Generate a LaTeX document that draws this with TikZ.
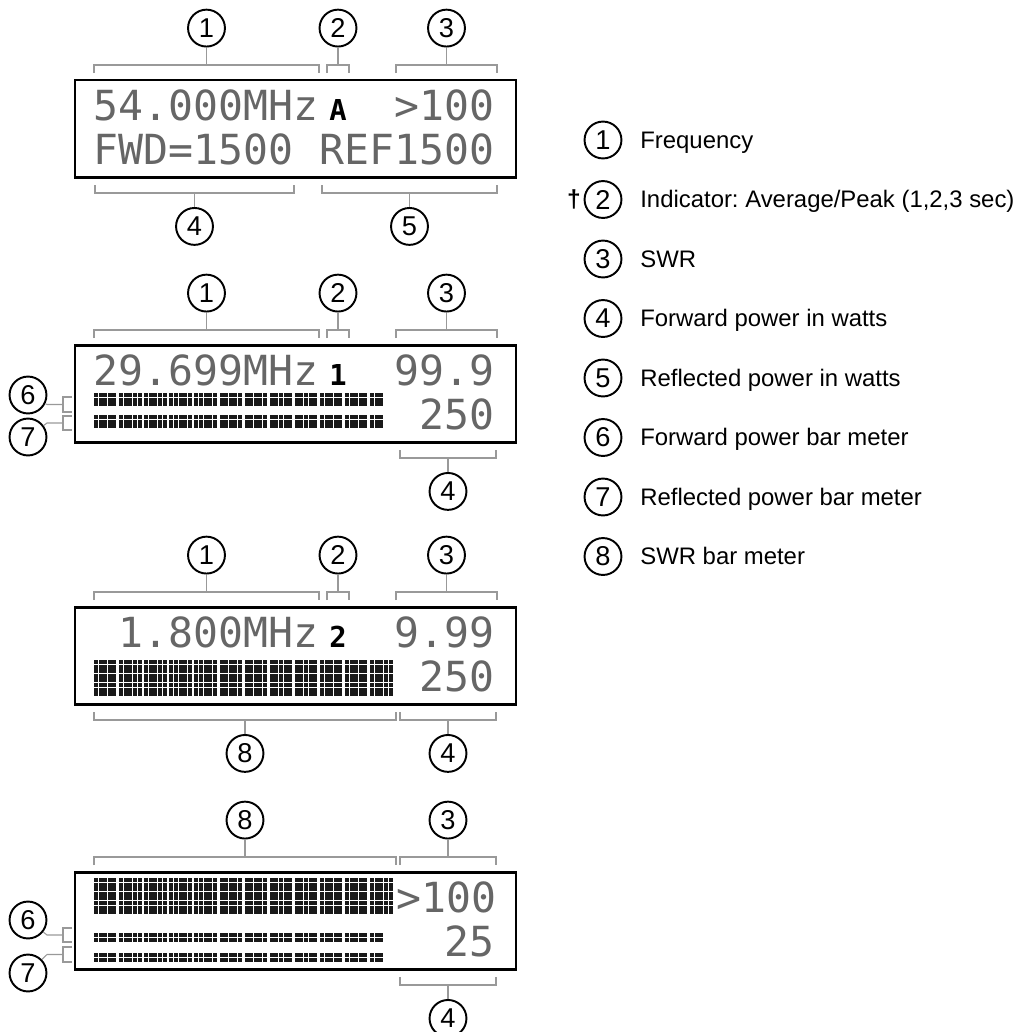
\documentclass[tikz,border=0pt]{standalone}
\usepackage{fontspec}
\setmainfont{Liberation Sans}
\newfontfamily\lcdfont{DejaVu Sans Mono}
\usetikzlibrary{positioning,calc}
\frenchspacing

\tikzset{
  num/.style={circle, draw, line width=1.1pt, minimum size=21pt, inner sep=0pt, font=\fontsize{15.5}{16}\selectfont},
  brk/.style={draw=black!40, line width=0.6pt},
  lcdbox/.style={draw, line width=1.7pt},
  lcd/.style={anchor=base west, inner sep=0pt, text=black!60, font=\lcdfont\fontsize{23.6}{24}\selectfont},
  ind/.style={anchor=base, inner sep=0pt, font=\lcdfont\bfseries\fontsize{16.4}{17}\selectfont},
  dot/.style={fill=black!90},
  legend/.style={anchor=base west, inner sep=0pt, font=\fontsize{13.6}{15}\selectfont},
}

% bar graph of LCD dots: x0, y0, columns, rows
\newcommand{\lcdbar}[4]{%
  \foreach \c in {1,...,#3}{
    \foreach \r in {1,...,#4}{
      \pgfmathsetmacro{\bx}{#1+int((\c-1)/5)*25.1+mod(\c-1,5)*4.6}
      \pgfmathsetmacro{\by}{#2+(\r-1)*4.6}
      \fill[dot] (\bx,\by) rectangle ++(4,4);
    }
  }
}
% brackets: from x, to x, name of the stem point
\newcommand{\brktop}[3]{%
  \draw[brk] (#1,-7) -- (#1,-15) -- (#2,-15) -- (#2,-7);
  \coordinate (#3) at ({(#1+#2)/2},-15);}
\newcommand{\brkbot}[3]{%
  \draw[brk] (#1,105) -- (#1,113) -- (#2,113) -- (#2,105);
  \coordinate (#3) at ({(#1+#2)/2},113);}
\newcommand{\brkleft}[3]{%
  \draw[brk] (72,#1) -- (63,#1) -- (63,#2) -- (72,#2);
  \coordinate (#3) at (63,{(#1+#2)/2});}

\begin{document}
\begin{tikzpicture}[x=0.02cm, y=-0.02cm]
  \useasboundingbox (0,0) rectangle (1021,1032);

  % --- Display 1: frequency, indicator, SWR, FWD/REF ---
  \begin{scope}[shift={(0,80)}]
    \draw[lcdbox] (75,0) rectangle (516,97);
    \node[lcd] (d1f) at (93,40) {54.000MHz};
    \node[ind] (d1i) at (338,40) {A};
    \node[lcd] (d1s) at (394.2,40) {>100};
    \node[lcd] (d1w) at (93,84) {FWD=1500};
    \node[lcd] (d1r) at (318.9,84) {REF1500};

    \brktop{94}{319}{d1b1}
    \brktop{327}{349}{d1b2}
    \brktop{396}{497}{d1b3}
    \brkbot{95}{294}{d1b4}
    \brkbot{322}{497}{d1b5}
    \node[num, above=0.35cm of d1b1] (d1n1) {1};
    \node[num, above=0.35cm of d1b2] (d1n2) {2};
    \node[num, above=0.35cm of d1b3] (d1n3) {3};
    \node[num, below=0.28cm of d1b4] (d1n4) {4};
    \node[num, below=0.28cm of d1b5] (d1n5) {5};
    \draw[brk] (d1b1) -- (d1n1);
    \draw[brk] (d1b2) -- (d1n2);
    \draw[brk] (d1b3) -- (d1n3);
    \draw[brk] (d1b4) -- (d1n4);
    \draw[brk] (d1b5) -- (d1n5);
  \end{scope}

  % --- Display 2: FWD and REF bar meters ---
  \begin{scope}[shift={(0,345)}]
    \draw[lcdbox] (75,0) rectangle (516,97);
    \node[lcd] (d2f) at (93,40) {29.699MHz};
    \node[ind] (d2i) at (338,40) {1};
    \node[lcd] (d2s) at (394.2,40) {99.9};
    \node[lcd] (d2w) at (419.3,84) {250};
    \lcdbar{94}{48}{58}{3}
    \lcdbar{94}{70}{58}{3}

    \brktop{94}{319}{d2b1}
    \brktop{327}{349}{d2b2}
    \brktop{396}{497}{d2b3}
    \brkbot{400}{496}{d2b4}
    \brkleft{52}{67}{d2b6}
    \brkleft{71}{85}{d2b7}
    \node[num, above=0.35cm of d2b1] (d2n1) {1};
    \node[num, above=0.35cm of d2b2] (d2n2) {2};
    \node[num, above=0.35cm of d2b3] (d2n3) {3};
    \node[num, below=0.28cm of d2b4] (d2n4) {4};
    \node[num] (d2n6) at (28,50) {6};
    \node[num] (d2n7) at (28,92) {7};
    \draw[brk] (d2b1) -- (d2n1);
    \draw[brk] (d2b2) -- (d2n2);
    \draw[brk] (d2b3) -- (d2n3);
    \draw[brk] (d2b4) -- (d2n4);
    \draw[brk] (d2b6) -- ++(-16,0) -- (d2n6);
    \draw[brk] (d2b7) -- ++(-16,0) -- (d2n7);
  \end{scope}

  % --- Display 3: SWR bar meter ---
  \begin{scope}[shift={(0,607)}]
    \draw[lcdbox] (75,0) rectangle (516,97);
    \node[lcd] (d3f) at (118.1,40) {1.800MHz};
    \node[ind] (d3i) at (338,40) {2};
    \node[lcd] (d3s) at (394.2,40) {9.99};
    \node[lcd] (d3w) at (419.3,84) {250};
    \lcdbar{94}{53}{60}{8}

    \brktop{94}{319}{d3b1}
    \brktop{327}{349}{d3b2}
    \brktop{396}{497}{d3b3}
    \brkbot{94}{396}{d3b8}
    \brkbot{400}{496}{d3b4}
    \node[num, above=0.35cm of d3b1] (d3n1) {1};
    \node[num, above=0.35cm of d3b2] (d3n2) {2};
    \node[num, above=0.35cm of d3b3] (d3n3) {3};
    \node[num, below=0.28cm of d3b8] (d3n8) {8};
    \node[num, below=0.28cm of d3b4] (d3n4) {4};
    \draw[brk] (d3b1) -- (d3n1);
    \draw[brk] (d3b2) -- (d3n2);
    \draw[brk] (d3b3) -- (d3n3);
    \draw[brk] (d3b8) -- (d3n8);
    \draw[brk] (d3b4) -- (d3n4);
  \end{scope}

  % --- Display 4: all three bar meters ---
  \begin{scope}[shift={(0,872)}]
    \draw[lcdbox] (75,0) rectangle (516,97);
    \lcdbar{94}{6}{60}{8}
    \node[lcd] (d4s) at (396.2,40) {>100};
    \node[lcd] (d4w) at (444.4,84) {25};
    \lcdbar{94}{61}{58}{2}
    \lcdbar{94}{81}{58}{2}

    \brktop{94}{396}{d4b8}
    \brktop{400}{496}{d4b3}
    \brkbot{400}{496}{d4b4}
    \brkleft{56}{70}{d4b6}
    \brkleft{75}{90}{d4b7}
    \node[num, above=0.35cm of d4b8] (d4n8) {8};
    \node[num, above=0.35cm of d4b3] (d4n3) {3};
    \node[num, below=0.28cm of d4b4] (d4n4) {4};
    \node[num] (d4n6) at (28,48) {6};
    \node[num] (d4n7) at (28,101) {7};
    \draw[brk] (d4b8) -- (d4n8);
    \draw[brk] (d4b3) -- (d4n3);
    \draw[brk] (d4b4) -- (d4n4);
    \draw[brk] (d4b6) -- ++(-16,0) -- (d4n6);
    \draw[brk] (d4b7) -- ++(-16,0) -- (d4n7);
  \end{scope}

  % --- Legend ---
  \node[num] (k1) at (603,140) {1};
  \node[num] (k2) at (603,199.5) {2};
  \node[num] (k3) at (603,259) {3};
  \node[num] (k4) at (603,318.5) {4};
  \node[num] (k5) at (603,378) {5};
  \node[num] (k6) at (603,437.5) {6};
  \node[num] (k7) at (603,497) {7};
  \node[num] (k8) at (603,556.5) {8};
  \node[legend] (t1) at (640,148) {Frequency};
  \node[legend] (t2) at (640,207.5) {Indicator: Average/Peak (1,2,3 sec)};
  \node[legend] (t3) at (640,267) {SWR};
  \node[legend] (t4) at (640,326.5) {Forward power in watts};
  \node[legend] (t5) at (640,386) {Reflected power in watts};
  \node[legend] (t6) at (640,445.5) {Forward power bar meter};
  \node[legend] (t7) at (640,505) {Reflected power bar meter};
  \node[legend] (t8) at (640,564.5) {SWR bar meter};
  \node[inner sep=0pt, font=\bfseries\fontsize{14}{14}\selectfont] (dag) at (574,199) {†};
\end{tikzpicture}
\end{document}
